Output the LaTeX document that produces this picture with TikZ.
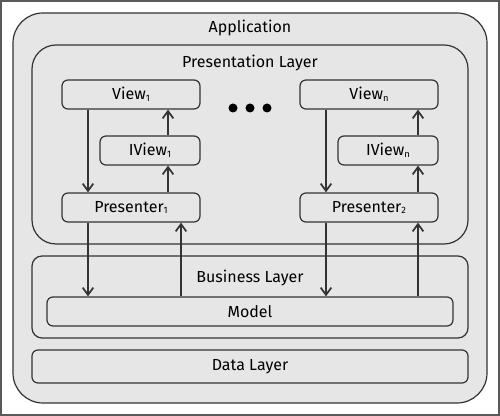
\documentclass[tikz,border=0pt]{standalone}
\usepackage{fontspec}
\setmainfont{Fira Sans}
\usetikzlibrary{arrows.meta}
\newlength{\px}
\setlength{\px}{0.75pt}
\newcommand{\idx}[1]{\raisebox{-0.2ex}{\scriptsize #1}}
\definecolor{boxgray}{HTML}{E6E6E6}
\definecolor{linegray}{HTML}{333333}
\tikzset{
  layer/.style={draw=linegray, fill=boxgray, line width=1.2\px},
  box/.style={layer, rounded corners=6\px, minimum width=138\px, minimum height=29\px, inner sep=0pt},
  ibox/.style={box, minimum width=100\px},
  arr/.style={linegray, line width=1.3\px, -{Straight Barb[length=5.5pt, width=8pt, line width=1.3pt]}},
  title/.style={inner sep=0pt}
}

\begin{document}
\begin{tikzpicture}[x=\px, y=-\px, font=\fontsize{12}{14}\selectfont]
\useasboundingbox (0,0) rectangle (500,416);
\draw[black!65, line width=1.5pt] (1,1) rectangle (499,415);

% layers
\draw[layer, rounded corners=30\px] (13,13) rectangle (487,403);
\node[title] (apptitle) at (250,28) {Application};
\draw[layer, rounded corners=24\px] (32,45) rectangle (468,244);
\node[title] (prestitle) at (250,63) {Presentation Layer};
\draw[layer, rounded corners=10\px] (32,256) rectangle (468,338);
\node[title] (busitle) at (250,278) {Business Layer};
\node[box, minimum width=436\px, minimum height=33\px] (data) at (250,366.5) {Data Layer};

% views and presenters
\node[box] (view1) at (131,94.5) {View\idx{1}};
\node[ibox] (iview1) at (150,150.5) {IView\idx{1}};
\node[box] (pres1) at (131,207.5) {Presenter\idx{1}};
\node[box] (viewn) at (369,94.5) {View\idx{n}};
\node[ibox] (iviewn) at (388,150.5) {IView\idx{n}};
\node[box] (pres2) at (369,207.5) {Presenter\idx{2}};
\node[box, minimum width=406\px] (model) at (250,311.5) {Model};

\foreach \x in {233,250,267}
  \fill (\x,108) circle (4.5\px);

% left column
\draw[arr] ([xshift=-43\px]view1.south) -- ([xshift=-43\px]pres1.north);
\draw[arr] ([xshift=18\px]iview1.north) -- ([xshift=18\px]iview1.north |- view1.south);
\draw[arr] ([xshift=37\px]pres1.north) -- ([xshift=18\px]iview1.south);
\draw[arr] ([xshift=-43\px]pres1.south) -- ([xshift=-43\px]pres1.south |- model.north);
\draw[arr] ([xshift=50\px]pres1.south |- model.north) -- ([xshift=50\px]pres1.south);

% right column
\draw[arr] ([xshift=-43\px]viewn.south) -- ([xshift=-43\px]pres2.north);
\draw[arr] ([xshift=30\px]iviewn.north) -- ([xshift=30\px]iviewn.north |- viewn.south);
\draw[arr] ([xshift=49\px]pres2.north) -- ([xshift=30\px]iviewn.south);
\draw[arr] ([xshift=-43\px]pres2.south) -- ([xshift=-43\px]pres2.south |- model.north);
\draw[arr] ([xshift=49\px]pres2.south |- model.north) -- ([xshift=49\px]pres2.south);
\end{tikzpicture}
\end{document}
